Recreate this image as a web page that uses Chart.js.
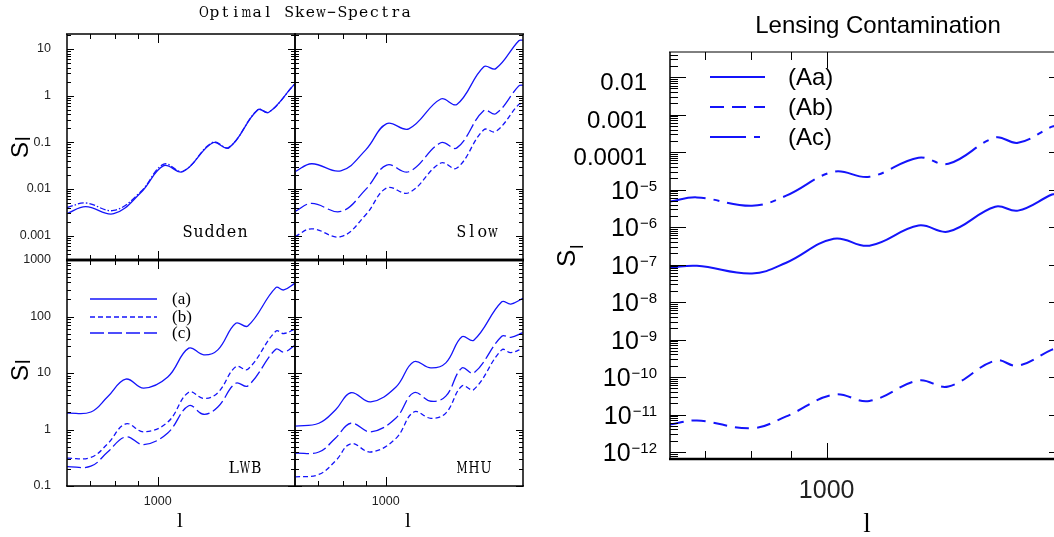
<!DOCTYPE html>
<html>
<head>
<meta charset="utf-8">
<title>Optimal Skew-Spectra / Lensing Contamination</title>
<script src="https://cdn.jsdelivr.net/npm/chart.js@4.4.1/dist/chart.umd.min.js"></script>
<style>
  html, body { margin: 0; padding: 0; background: #fff; width: 1054px; height: 537px; overflow: hidden; }
  canvas { position: absolute; left: 0; top: 0; }
</style>
</head>
<body>
<canvas id="sudden" width="1054" height="537"></canvas>
<canvas id="slow" width="1054" height="537"></canvas>
<canvas id="lwb" width="1054" height="537"></canvas>
<canvas id="mhu" width="1054" height="537"></canvas>
<canvas id="lens" width="1070" height="537"></canvas>
<script>
// --- data (l, S_l) ---
const lSudden = [620, 684, 793, 914, 1032, 1141, 1336, 1454, 1694, 1795, 2048, 2060];
const suddenA = [0.00295, 0.00417, 0.00295, 0.0083, 0.0316, 0.0234, 0.098, 0.076, 0.50, 0.44, 1.70, 1.72];
const suddenB = [0.0040, 0.0050, 0.00347, 0.0087, 0.034, 0.024, 0.100, 0.078, 0.50, 0.44, 1.70, 1.72];

const lSlow = [620, 677, 789, 900, 1005, 1129, 1336, 1454, 1676, 1785, 2015, 2060];
const slowA = [0.0234, 0.0347, 0.0245, 0.069, 0.251, 0.195, 0.85, 0.65, 4.17, 3.80, 15.1, 15.5];
const slowB = [0.00095, 0.0014, 0.00095, 0.0028, 0.0105, 0.0083, 0.036, 0.028, 0.186, 0.17, 0.65, 0.68];
const slowC = [0.0033, 0.0049, 0.0033, 0.0098, 0.0324, 0.0234, 0.098, 0.076, 0.48, 0.41, 1.62, 1.68];

const lLwb = [620, 703, 768, 845, 929, 1054, 1177, 1274, 1372, 1508, 1607, 1862, 1942, 2060];
const lwbA = [1.95, 2.04, 3.8, 7.8, 5.4, 8.5, 27.5, 20.9, 25.7, 76, 68, 324, 295, 389];
const lwbB = [0.31, 0.32, 0.56, 1.26, 0.91, 1.35, 4.57, 3.55, 4.47, 12.9, 11.7, 55, 50, 60];
const lwbC = [0.22, 0.224, 0.40, 0.74, 0.54, 0.87, 2.63, 1.86, 2.51, 6.6, 5.9, 26.3, 23.4, 30.9];

const lMhu = [620, 703, 768, 832, 924, 1054, 1159, 1268, 1372, 1493, 1590, 1842, 1932, 2060];
const mhuA = [1.15, 1.29, 2.24, 4.47, 3.09, 5.6, 15.8, 12.3, 15.1, 43.7, 38, 182, 166, 210];
const mhuB = [0.145, 0.16, 0.28, 0.56, 0.40, 0.69, 2.04, 1.58, 1.95, 5.9, 5.1, 25.7, 22.9, 27.5];
const mhuC = [0.38, 0.40, 0.71, 1.29, 0.91, 1.58, 4.47, 3.16, 3.89, 12.3, 10, 44.7, 42.7, 52];

const lLens = [631, 683, 803, 888, 1021, 1134, 1310, 1430, 1641, 1755, 1939, 1968];
const lensAa = [8.3e-8, 9.3e-8, 5.8e-8, 1.12e-7, 4.9e-7, 3.2e-7, 1.1e-6, 7.6e-7, 3.5e-6, 2.75e-6, 7.4e-6, 7.7e-6];
const lensAb = [5.4e-12, 6.9e-12, 4.3e-12, 8.9e-12, 3.4e-11, 2.3e-11, 8.1e-11, 5.6e-11, 2.75e-10, 2.0e-10, 5.4e-10, 5.7e-10];
const lensAc = [4.8e-6, 6.2e-6, 3.7e-6, 6.9e-6, 3.0e-5, 2.2e-5, 7.1e-5, 4.9e-5, 2.45e-4, 1.78e-4, 4.8e-4, 5.1e-4];

// tick labels
const topYTicks = [10, 1, 0.1, 0.01, 0.001];
const bottomYTicks = [1000, 100, 10, 1, 0.1];
const lensYTicks = [0.01, 0.001, 0.0001, 1e-5, 1e-6, 1e-7, 1e-8, 1e-9, 1e-10, 1e-11, 1e-12];
const xTickLabels = [1000];
const xMinorTicks = [700, 800, 900];
const legendLeft = ['(a)', '(b)', '(c)'];
const legendLens = ['(Aa)', '(Ab)', '(Ac)'];

const blue = 'rgb(20,20,250)';
const SHORT = [5, 3], LONG = [14, 4];

function ds(xs, ys, dash, width) {
  return {
    data: xs.map((x, i) => ({ x: x, y: ys[i] })),
    borderColor: blue, borderWidth: width, borderDash: dash,
    pointRadius: 0, tension: 0.4, fill: false
  };
}

// per-panel decoration (frame, inward ticks, labels)
const panelOpts = {
  sudden: {
    area: [67, 34, 295, 260], xMin: 620, xMax: 2060, yMin: 3.1e-4, yMax: 21,
    yTicks: topYTicks, xTicks: [], font: 12.5,
    frame: { top: 1.5, left: 1.5, bottom: 2.5, right: 1.5 },
    tk: { yMaj: 7, yMin: 4, yMajR: 7, rightMinor: true, xMaj: 9, xMin: 5 },
    texts: [
      { kind: 'cells', t: 'Optimal Skew\u2212Spectra', x: 305, y: 17, size: 15.5, cell: 10.65, align: 'center' },
      { kind: 'cells', t: 'Sudden', x: 182, y: 237, size: 16, cell: 11, align: 'left' },
      { kind: 'sl', x: 28, y: 158, size: 24, sub: 20, drop: 2 }
    ]
  },
  slow: {
    area: [295, 34, 523, 260], xMin: 620, xMax: 2060, yMin: 3.1e-4, yMax: 21,
    yTicks: [], xTicks: [],
    frame: { top: 1.5, left: 1.5, bottom: 2.5, right: 1.5 },
    tk: { yMaj: 7, yMin: 4, yMajR: 7, rightMinor: true, xMaj: 9, xMin: 5 },
    texts: [
      { kind: 'cells', t: 'Slow', x: 456, y: 237, size: 16, cell: 10.5, align: 'left' }
    ]
  },
  lwb: {
    area: [67, 260, 295, 486], xMin: 620, xMax: 2060, yMin: 0.1, yMax: 1000,
    yTicks: bottomYTicks, xTicks: xTickLabels, font: 12.5, xPad: 0,
    frame: { top: 2.5, left: 1.5, bottom: 1.5, right: 1.5 },
    tk: { yMaj: 7, yMin: 4, yMajR: 7, rightMinor: true, xMaj: 9, xMin: 5 },
    texts: [
      { kind: 'cells', t: 'LWB', x: 228, y: 473, size: 16, cell: 11.3, align: 'left' },
      { kind: 'text', t: 'l', x: 180, y: 527, font: '21px "Liberation Serif"', align: 'center' },
      { kind: 'sl', x: 28, y: 381, size: 24, sub: 20, drop: 2 }
    ],
    legend: { x1: 90, x2: 157, ys: [299, 317, 333], tx: 172, labels: legendLeft, font: '17px "Liberation Serif"' }
  },
  mhu: {
    area: [295, 260, 523, 486], xMin: 620, xMax: 2060, yMin: 0.1, yMax: 1000,
    yTicks: [], xTicks: xTickLabels, font: 12.5, xPad: 0,
    frame: { top: 2.5, left: 1.5, bottom: 1.5, right: 1.5 },
    tk: { yMaj: 7, yMin: 4, yMajR: 7, rightMinor: true, xMaj: 9, xMin: 5 },
    texts: [
      { kind: 'cells', t: 'MHU', x: 456, y: 473, size: 16, cell: 12, align: 'left' },
      { kind: 'text', t: 'l', x: 408, y: 527, font: '21px "Liberation Serif"', align: 'center' }
    ]
  },
  lens: {
    area: [670, 52, 1057, 459], xMin: 631, xMax: 1968, yMin: 6.5e-13, yMax: 0.047,
    yTicks: [], xTicks: xTickLabels, font: 25, xPad: 9, xH: 60,
    frame: { top: 1, left: 1.5, bottom: 2.5, right: 1 },
    tk: { yMaj: 16, yMin: 8, yMajR: 8, rightMinor: false, xMaj: 16, xMin: 8 },
    expLabels: lensYTicks,
    texts: [
      { kind: 'text', t: 'Lensing Contamination', x: 878, y: 33, font: '24px "Liberation Sans"', align: 'center' },
      { kind: 'text', t: 'l', x: 867, y: 532, font: '27px "Liberation Serif"', align: 'center' },
      { kind: 'sl', x: 575, y: 267, size: 26, sub: 18, drop: 8 }
    ],
    legend: { x1: 710, x2: 765, ys: [77, 107, 137], tx: 788, labels: legendLens, font: '24px "Liberation Sans"' }
  }
};

function drawCells(ctx, text, x, y, size, cell, align) {
  ctx.font = size + 'px "DejaVu Serif"';
  ctx.textAlign = 'center';
  ctx.textBaseline = 'alphabetic';
  const x0 = align === 'center' ? x - text.length * cell / 2 : x;
  for (let i = 0; i < text.length; i++) {
    const ch = text[i];
    const w = ctx.measureText(ch).width;
    ctx.save();
    ctx.translate(x0 + (i + 0.5) * cell, y);
    if (w > cell * 0.92) ctx.scale(cell * 0.92 / w, 1);
    ctx.fillText(ch, 0, 0);
    ctx.restore();
  }
}

function drawSl(ctx, x, y, size, sub, drop) {
  ctx.save();
  ctx.translate(x, y);
  ctx.rotate(-Math.PI / 2);
  ctx.textAlign = 'left';
  ctx.textBaseline = 'alphabetic';
  ctx.font = size + 'px "Liberation Sans"';
  ctx.fillText('S', 0, 0);
  const w = ctx.measureText('S').width;
  ctx.font = sub + 'px "Liberation Sans"';
  ctx.fillText('l', w + 1, drop);
  ctx.restore();
}

const panelPlugin = {
  id: 'panelDeco',
  afterDraw(chart) {
    const p = panelOpts[chart.canvas.id];
    const ctx = chart.ctx, a = chart.chartArea;
    const xs = chart.scales.x, ys = chart.scales.y;
    ctx.save();
    ctx.strokeStyle = '#000';
    ctx.fillStyle = '#000';
    ctx.lineWidth = 1;
    ctx.setLineDash([]);

    // inward log ticks on y
    ctx.beginPath();
    const k0 = Math.floor(Math.log10(p.yMin)), k1 = Math.ceil(Math.log10(p.yMax));
    for (let k = k0; k <= k1; k++) {
      for (let m = 1; m <= 9; m++) {
        const v = m * Math.pow(10, k);
        if (v < p.yMin || v > p.yMax) continue;
        const y = Math.round(ys.getPixelForValue(v)) + 0.5;
        const major = m === 1;
        ctx.moveTo(a.left, y);
        ctx.lineTo(a.left + (major ? p.tk.yMaj : p.tk.yMin), y);
        if (major || p.tk.rightMinor) {
          ctx.moveTo(a.right, y);
          ctx.lineTo(a.right - (major ? p.tk.yMajR : p.tk.yMin), y);
        }
      }
    }
    // inward ticks on x (top and bottom)
    xMinorTicks.concat(xTickLabels).forEach(v => {
      if (v < p.xMin || v > p.xMax) return;
      const x = Math.round(xs.getPixelForValue(v)) + 0.5;
      const len = xTickLabels.includes(v) ? p.tk.xMaj : p.tk.xMin;
      ctx.moveTo(x, a.top);
      ctx.lineTo(x, a.top + len);
      ctx.moveTo(x, a.bottom);
      ctx.lineTo(x, a.bottom - len);
    });
    ctx.stroke();

    // frame
    const f = p.frame;
    const side = (x1, y1, x2, y2, w) => {
      ctx.lineWidth = w;
      ctx.beginPath();
      ctx.moveTo(x1, y1);
      ctx.lineTo(x2, y2);
      ctx.stroke();
    };
    side(a.left - 1, a.top, a.right + 1, a.top, f.top);
    side(a.left - 1, a.bottom, a.right + 1, a.bottom, f.bottom);
    side(a.left, a.top, a.left, a.bottom, f.left);
    side(a.right, a.top, a.right, a.bottom, f.right);

    // legend
    if (p.legend) {
      const lg = p.legend;
      chart.data.datasets.forEach((d, i) => {
        ctx.strokeStyle = blue;
        ctx.lineWidth = d.borderWidth;
        ctx.setLineDash(d.borderDash);
        ctx.beginPath();
        ctx.moveTo(lg.x1, lg.ys[i]);
        ctx.lineTo(lg.x2, lg.ys[i]);
        ctx.stroke();
        ctx.setLineDash([]);
        ctx.font = lg.font;
        ctx.textAlign = 'left';
        ctx.textBaseline = 'middle';
        ctx.fillText(lg.labels[i], lg.tx, lg.ys[i] + 1);
      });
    }

    // y labels with exponents
    if (p.expLabels) {
      p.expLabels.forEach(v => {
        const y = ys.getPixelForValue(v);
        ctx.textBaseline = 'alphabetic';
        if (v >= 1e-4) {
          ctx.font = '24px "Liberation Sans"';
          ctx.textAlign = 'right';
          ctx.fillText(String(v), 647, y + 13);
        } else {
          const e = '\u2212' + Math.round(-Math.log10(v));
          ctx.font = '15px "Liberation Sans"';
          const we = ctx.measureText(e).width;
          ctx.textAlign = 'left';
          ctx.fillText(e, 657 - we, y + 1);
          ctx.font = '25px "Liberation Sans"';
          ctx.textAlign = 'right';
          ctx.fillText('10', 656 - we, y + 9);
        }
      });
    }

    // other texts
    (p.texts || []).forEach(t => {
      if (t.kind === 'cells') drawCells(ctx, t.t, t.x, t.y, t.size, t.cell, t.align);
      else if (t.kind === 'sl') drawSl(ctx, t.x, t.y, t.size, t.sub, t.drop);
      else {
        ctx.font = t.font;
        ctx.textAlign = t.align;
        ctx.textBaseline = 'alphabetic';
        ctx.fillText(t.t, t.x, t.y);
      }
    });
    ctx.restore();
  }
};

function makePanel(id, datasets) {
  const p = panelOpts[id];
  const cv = document.getElementById(id);
  const W = cv.width, H = cv.height;
  const xH = p.xH || 40;
  return new Chart(cv, {
    type: 'line',
    data: { datasets: datasets },
    options: {
      responsive: false,
      animation: false,
      events: [],
      layout: { padding: { left: p.area[0] - 60, top: p.area[1], right: W - p.area[2], bottom: H - p.area[3] - xH } },
      plugins: { legend: { display: false }, tooltip: { enabled: false } },
      scales: {
        x: {
          type: 'logarithmic', min: p.xMin, max: p.xMax,
          grid: { display: false }, border: { display: false },
          afterFit: s => { s.height = xH; },
          afterBuildTicks: s => { s.ticks = p.xTicks.map(v => ({ value: v })); },
          ticks: {
            display: p.xTicks.length > 0, autoSkip: false, maxRotation: 0,
            padding: p.xPad || 0, color: '#222',
            font: { family: 'Liberation Sans', size: p.font || 12 },
            callback: v => String(v)
          }
        },
        y: {
          type: 'logarithmic', min: p.yMin, max: p.yMax,
          grid: { display: false }, border: { display: false },
          afterFit: s => { s.width = 60; },
          afterBuildTicks: s => { s.ticks = p.yTicks.map(v => ({ value: v })); },
          ticks: {
            display: p.yTicks.length > 0, autoSkip: false, padding: 8, color: '#222',
            font: { family: 'Liberation Sans', size: p.font || 12 },
            callback: v => String(v)
          }
        }
      }
    },
    plugins: [panelPlugin]
  });
}

makePanel('sudden', [ds(lSudden, suddenA, [], 1.3), ds(lSudden, suddenB, [6, 2, 1.5, 2], 1.3)]);
makePanel('slow', [ds(lSlow, slowA, [], 1.3), ds(lSlow, slowB, SHORT, 1.3), ds(lSlow, slowC, LONG, 1.3)]);
makePanel('lwb', [ds(lLwb, lwbA, [], 1.3), ds(lLwb, lwbB, SHORT, 1.3), ds(lLwb, lwbC, LONG, 1.3)]);
makePanel('mhu', [ds(lMhu, mhuA, [], 1.3), ds(lMhu, mhuB, SHORT, 1.3), ds(lMhu, mhuC, LONG, 1.3)]);
makePanel('lens', [ds(lLens, lensAa, [], 2), ds(lLens, lensAb, [14, 8], 2), ds(lLens, lensAc, [36, 8, 6, 8], 2)]);
</script>
</body>
</html>
